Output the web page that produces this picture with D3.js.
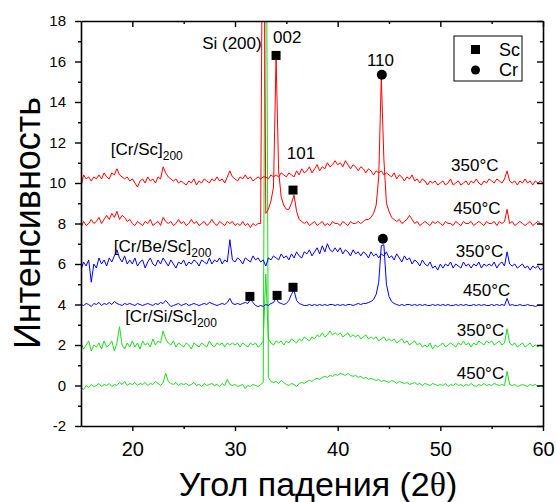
<!DOCTYPE html>
<html>
<head>
<meta charset="utf-8">
<script src="https://cdn.jsdelivr.net/npm/d3@7"></script>
<style>
  body { margin: 0; background: #fff; }
  svg { font-family: "Liberation Sans", Arial, sans-serif; }
</style>
</head>
<body>
<script>
// diffraction scans, step 0.25 deg from 15 to 60 (181 points each)
const angles = d3.range(0, 181).map(i => 15 + i * 0.25);

const crSc350 = [
    9.8, 10.4, 10.2, 10.3, 10.1, 10.3, 10.2, 10.4, 10.2, 10.5, 10.3, 10.2, 10.5, 10.4, 10.7, 10.4, 10.3, 10.2, 10.3, 10.1,
    10.2, 10.0, 9.8, 10.1, 10.2, 10.0, 10.3, 10.1, 10.2, 10.0, 10.3, 10.2, 10.8, 10.5, 10.3, 10.2, 10.1, 10.2, 10.0, 10.1,
    10.0, 9.9, 10.1, 10.0, 10.2, 9.9, 10.1, 10.0, 10.2, 10.1, 10.0, 10.2, 10.1, 10.3, 10.1, 10.2, 10.0, 10.3, 10.6, 10.3,
    10.2, 10.1, 10.3, 10.2, 10.4, 10.2, 10.3, 10.1, 10.2, 10.3, 10.2, 10.3, 10.3, 10.2, 10.4, 10.3, 10.4, 10.3, 10.5, 10.4,
    10.3, 10.5, 10.4, 10.3, 10.6, 10.4, 10.7, 10.5, 10.6, 10.8, 10.5, 10.7, 10.9, 10.6, 10.8, 10.7, 11.0, 10.8, 10.9, 11.1,
    10.9, 11.0, 10.8, 11.1, 10.9, 10.7, 10.9, 10.8, 10.6, 10.8, 10.7, 10.5, 10.7, 10.6, 10.4, 10.6, 10.5, 10.6, 10.4, 10.5,
    10.4, 10.3, 10.5, 10.2, 10.4, 10.3, 10.1, 10.3, 10.2, 10.4, 10.1, 10.2, 10.0, 10.2, 10.1, 9.9, 10.1, 10.0, 10.1, 9.9,
    10.0, 10.1, 9.9, 10.0, 10.2, 9.9, 10.0, 10.1, 9.9, 10.0, 10.1, 9.9, 10.1, 10.0, 10.2, 10.0, 9.9, 10.1, 10.0, 10.2,
    10.1, 10.0, 10.2, 10.1, 10.0, 10.2, 10.6, 10.1, 10.0, 10.1, 9.9, 10.1, 10.0, 10.2, 10.0, 10.1, 9.9, 10.1, 10.0, 10.1,
    10.0
];
const crSc450 = [
    7.8, 8.1, 7.9, 8.0, 8.2, 8.0, 8.1, 8.3, 8.0, 8.2, 8.4, 8.2, 8.5, 8.3, 8.6, 8.2, 8.4, 8.3, 8.1, 8.2,
    8.0, 7.9, 8.1, 8.0, 7.9, 8.1, 8.0, 8.2, 7.9, 8.0, 8.1, 7.9, 8.3, 8.1, 8.0, 8.1, 7.9, 8.0, 8.2, 8.0,
    8.1, 7.9, 8.0, 8.2, 8.0, 8.1, 7.9, 8.0, 8.1, 7.9, 8.0, 8.2, 8.0, 7.9, 8.1, 8.0, 7.9, 8.1, 8.0, 8.1,
    7.9, 8.0, 7.9, 8.1, 7.9, 8.0, 7.8, 8.0, 7.9, 8.0, 8.0, 30, 8.5, 8.7, 9.1, 9.8, 16.2, 10.6, 9.3, 8.9,
    8.7, 8.7, 9.0, 9.4, 8.6, 8.2, 8.1, 8.0, 8.1, 7.9, 8.0, 8.1, 7.9, 8.0, 8.1, 7.9, 8.0, 7.9, 8.1, 8.0,
    8.0, 7.9, 8.1, 8.0, 7.9, 8.1, 8.0, 8.0, 8.1, 8.0, 8.1, 8.2, 8.2, 8.3, 8.5, 8.9, 10.3, 15.2, 11.2, 9.0,
    8.6, 8.3, 8.2, 8.1, 8.2, 8.0, 8.1, 8.2, 8.4, 8.2, 8.0, 8.1, 7.9, 8.0, 8.1, 8.0, 7.9, 8.1, 8.0, 8.1,
    8.0, 7.9, 8.1, 8.0, 8.0, 7.9, 8.1, 8.0, 7.9, 8.1, 8.0, 8.0, 8.1, 7.9, 8.0, 8.1, 8.0, 7.9, 8.1, 8.0,
    8.0, 8.1, 7.9, 8.1, 8.0, 8.1, 8.7, 8.0, 8.1, 7.9, 8.0, 8.1, 8.0, 7.9, 8.0, 8.1, 7.9, 8.0, 8.1, 8.0,
    7.9
];
const crBeSc350 = [
    5.7, 6.1, 5.9, 6.2, 5.1, 6.0, 5.8, 6.3, 6.0, 6.2, 5.9, 6.3, 6.1, 6.4, 6.7, 6.3, 6.1, 6.4, 6.0, 6.2,
    6.0, 6.3, 5.9, 6.1, 6.2, 5.8, 6.1, 6.3, 6.0, 5.9, 6.2, 6.0, 6.3, 6.1, 5.9, 6.2, 6.0, 5.8, 6.1, 6.0,
    6.2, 5.9, 6.1, 6.0, 6.2, 6.1, 5.9, 6.2, 6.1, 6.0, 6.3, 6.0, 6.2, 6.1, 6.3, 6.0, 6.2, 6.1, 7.2, 6.2,
    6.1, 6.3, 6.2, 6.0, 6.3, 6.2, 6.1, 6.4, 6.2, 6.3, 6.1, 6.2, 5.9, 6.3, 6.2, 6.4, 6.3, 6.2, 6.5, 6.3,
    6.4, 6.2, 6.5, 6.3, 6.6, 6.4, 6.3, 6.6, 6.5, 6.7, 6.4, 6.6, 6.8, 6.5, 6.9, 6.6, 7.0, 6.7, 6.6, 6.8,
    6.6, 6.8, 6.5, 6.7, 6.6, 6.4, 6.7, 6.5, 6.6, 6.4, 6.6, 6.5, 6.3, 6.6, 6.4, 6.5, 6.3, 6.5, 6.4, 6.6,
    6.3, 6.4, 6.2, 6.5, 6.3, 6.1, 6.4, 6.2, 6.3, 6.0, 6.2, 6.1, 5.9, 6.2, 6.0, 5.9, 6.1, 5.8, 5.9, 5.7,
    6.0, 5.8, 6.0, 5.9, 6.1, 5.8, 6.0, 5.9, 5.8, 6.1, 5.9, 6.0, 5.8, 6.0, 5.9, 6.1, 5.8, 6.0, 5.9, 6.0,
    5.9, 6.1, 5.8, 6.0, 6.1, 5.9, 6.6, 6.0, 5.9, 6.0, 5.8, 5.9, 6.0, 5.8, 5.9, 5.7, 5.9, 5.8, 5.9, 5.7,
    5.8
];
const crBeSc450 = [
    4.0, 3.95, 4.05, 4.0, 3.9, 4.05, 4.0, 4.1, 3.95, 4.05, 4.0, 4.1, 4.0, 4.15, 4.05, 4.0, 3.95, 4.05, 4.0, 4.05,
    4.0, 3.95, 4.05, 4.0, 3.95, 4.0, 4.05, 4.0, 3.95, 4.05, 4.0, 4.1, 4.05, 4.2, 4.05, 3.9, 3.95, 4.0, 4.05, 3.95,
    4.0, 4.05, 3.95, 4.0, 4.05, 4.0, 3.95, 4.0, 4.05, 4.0, 4.1, 4.05, 4.0, 3.95, 4.0, 4.05, 4.0, 4.1, 4.3, 4.05,
    4.0, 4.05, 4.0, 4.05, 4.1, 4.05, 4.25, 4.1, 3.95, 3.9, 3.95, 3.9, 4.0, 3.95, 4.05, 4.1, 4.3, 4.1, 4.05, 4.0,
    4.05, 4.2, 4.5, 4.7, 4.2, 4.05, 4.0, 3.95, 3.95, 4.0, 3.95, 4.0, 3.95, 4.0, 3.95, 4.0, 3.95, 4.0, 4.0, 3.95,
    4.0, 3.95, 4.0, 3.95, 4.0, 4.0, 3.95, 4.0, 4.05, 4.0, 4.05, 4.05, 4.1, 4.15, 4.25, 4.5, 5.1, 6.9, 6.95, 5.0,
    4.4, 4.15, 4.05, 4.0, 3.95, 4.0, 3.95, 4.0, 4.0, 3.95, 4.0, 3.95, 4.0, 3.95, 4.0, 3.95, 3.95, 4.0, 3.95, 4.0,
    3.95, 4.0, 3.95, 4.0, 3.95, 3.95, 4.0, 3.95, 4.0, 3.95, 4.0, 3.95, 3.95, 4.0, 3.95, 4.0, 3.95, 4.0, 3.95, 3.95,
    4.0, 3.95, 4.0, 3.95, 4.0, 3.95, 4.3, 3.95, 4.0, 3.95, 3.95, 4.0, 3.95, 3.95, 4.0, 3.95, 3.95, 3.9, 3.95, 3.95,
    3.95
];
const crSiSc350 = [
    2.1, 1.8, 2.0, 2.2, 1.7, 2.0, 1.9, 2.1, 1.8, 2.2, 1.9, 2.0, 2.2, 1.7, 2.1, 2.9, 2.0, 1.8, 2.1, 1.9,
    2.2, 1.9, 2.1, 1.8, 2.2, 2.0, 2.1, 1.9, 2.3, 2.0, 2.2, 2.1, 2.7, 2.3, 2.1, 2.0, 2.2, 1.9, 2.1, 2.0,
    1.9, 2.1, 2.0, 1.8, 2.1, 2.0, 1.9, 2.1, 2.0, 1.9, 2.2, 2.0, 1.9, 2.1, 2.0, 2.1, 1.9, 2.1, 2.0, 2.1,
    2.0, 2.1, 1.9, 2.1, 2.0, 1.9, 2.1, 2.0, 2.1, 1.9, 2.0, 2.2, 5.5, 2.3, 2.1, 2.0, 2.2, 2.1, 2.2, 2.0,
    2.2, 2.1, 2.3, 2.2, 2.1, 2.3, 2.2, 2.4, 2.3, 2.2, 2.4, 2.3, 2.5, 2.4, 2.6, 2.4, 2.5, 2.7, 2.5, 2.6,
    2.5, 2.6, 2.4, 2.5, 2.6, 2.4, 2.5, 2.4, 2.5, 2.3, 2.4, 2.5, 2.3, 2.4, 2.3, 2.4, 2.2, 2.3, 2.4, 2.2,
    2.3, 2.2, 2.3, 2.1, 2.2, 2.3, 2.1, 2.2, 2.0, 2.1, 2.2, 2.0, 2.1, 1.9, 2.0, 1.9, 2.1, 1.8, 2.0, 1.9,
    2.0, 2.1, 1.9, 2.0, 2.1, 2.0, 1.9, 2.1, 2.0, 2.2, 2.0, 2.1, 1.9, 2.1, 2.0, 2.2, 2.1, 2.0, 2.2, 2.1,
    2.2, 2.0, 2.1, 2.2, 2.0, 2.1, 2.8, 2.1, 2.0, 2.1, 1.9, 2.0, 2.1, 1.9, 2.0, 2.1, 1.9, 2.0, 1.9, 2.0,
    1.9
];
const crSiSc450 = [
    -0.1, -0.2, 0.0, -0.1, 0.05, -0.05, 0.0, 0.1, -0.05, 0.05, 0.0, 0.1, -0.05, 0.05, 0.0, 0.15, 0.05, 0.2, 0.0, 0.1,
    0.05, 0.15, 0.0, 0.1, 0.05, 0.15, 0.0, 0.1, 0.05, 0.2, 0.1, 0.0, 0.15, 0.6, 0.2, 0.1, 0.05, 0.15, 0.0, 0.1,
    0.05, 0.1, 0.0, 0.05, 0.15, 0.0, 0.05, -0.05, 0.1, 0.0, 0.05, 0.1, 0.0, 0.05, -0.05, 0.1, 0.0, 0.3, 0.05, 0.0,
    0.05, -0.05, 0.0, 0.05, -0.15, 0.0, -0.05, 0.05, 0.0, -0.05, 0.05, 0.15, 30, 0.4, 0.2, 0.15, 0.2, 0.1, 0.25, 0.15,
    0.05, 0.0, 0.1, 0.05, -0.05, 0.1, 0.15, 0.1, 0.2, 0.25, 0.2, 0.3, 0.35, 0.3, 0.4, 0.45, 0.4, 0.5, 0.45, 0.55,
    0.5, 0.6, 0.55, 0.5, 0.6, 0.5, 0.45, 0.5, 0.4, 0.45, 0.35, 0.4, 0.3, 0.35, 0.3, 0.25, 0.3, 0.2, 0.25, 0.2,
    0.15, 0.25, 0.2, 0.1, 0.2, 0.15, 0.1, 0.15, 0.05, 0.1, 0.15, 0.05, 0.1, 0.0, 0.1, 0.05, 0.0, 0.1, 0.05, 0.0,
    0.05, 0.0, 0.1, -0.05, 0.05, 0.0, 0.1, 0.0, 0.05, -0.05, 0.05, 0.0, 0.1, 0.0, -0.05, 0.05, 0.0, 0.1, 0.0, 0.05,
    0.0, 0.1, 0.05, 0.0, 0.05, 0.0, 0.7, 0.05, 0.0, 0.05, -0.05, 0.0, 0.05, 0.0, -0.05, 0.05, 0.0, 0.05, -0.05, 0.0,
    0.0
];

// peak markers [angle, intensity]
const scPeaks = [[34.0, 16.3], [35.65, 9.65], [31.45, 4.4], [34.1, 4.45], [35.65, 4.85]];
const crPeaks = [[44.3, 15.35], [44.4, 7.25]];

const xTicks = [20, 30, 40, 50, 60];
const xMinor = [25, 35, 45, 55];
const yTicks = [-2, 0, 2, 4, 6, 8, 10, 12, 14, 16, 18];
const yMinor = [-1, 1, 3, 5, 7, 9, 11, 13, 15, 17];

const width = 556, height = 502;
const margin = { top: 21, right: 13, bottom: 75, left: 81 };
const colors = { red: '#ff0000', blue: '#0000ff', green: '#1fd81f' };

const series = [
    { values: crSiSc450, color: colors.green },
    { values: crSiSc350, color: colors.green },
    { values: crBeSc450, color: colors.blue },
    { values: crBeSc350, color: colors.blue },
    { values: crSc450, color: colors.red },
    { values: crSc350, color: colors.red }
];
series.forEach(s => {
    if (s.values.length !== angles.length) throw new Error('bad length ' + s.values.length);
});

const x = d3.scaleLinear()
    .domain([15, 60])
    .range([margin.left, width - margin.right]);

const y = d3.scaleLinear()
    .domain([-2, 18])
    .range([height - margin.bottom - 1, margin.top]);

const svg = d3.create('svg')
    .attr('width', width)
    .attr('height', height);

svg.append('clipPath')
    .attr('id', 'plot')
    .append('rect')
    .attr('x', x(15))
    .attr('y', y(18))
    .attr('width', x(60) - x(15))
    .attr('height', y(-2) - y(18));

const line = d3.line()
    .x((d, i) => x(angles[i]))
    .y(d => y(d));

svg.append('g')
    .attr('clip-path', 'url(#plot)')
    .selectAll('path')
    .data(series)
    .join('path')
    .attr('fill', 'none')
    .attr('stroke', d => d.color)
    .attr('stroke-width', 1)
    .attr('d', d => line(d.values));

// markers
svg.append('g')
    .selectAll('rect')
    .data(scPeaks)
    .join('rect')
    .attr('x', d => x(d[0]) - 4.5)
    .attr('y', d => y(d[1]) - 4.5)
    .attr('width', 9)
    .attr('height', 9)
    .attr('fill', 'black');

svg.append('g')
    .selectAll('circle')
    .data(crPeaks)
    .join('circle')
    .attr('cx', d => x(d[0]))
    .attr('cy', d => y(d[1]))
    .attr('r', 5)
    .attr('fill', 'black');

// axes
const styleAxis = g => {
    g.select('.domain').attr('stroke-width', 1.6);
    g.selectAll('.tick line').attr('stroke-width', 1.4);
};

svg.append('g')
    .attr('transform', `translate(0,${y(-2)})`)
    .call(d3.axisBottom(x).tickValues(xTicks).tickSize(5).tickSizeOuter(0).tickPadding(11).tickFormat(d => String(d)))
    .call(styleAxis)
    .call(g => g.selectAll('text').attr('font-size', 20).attr('font-family', null));

svg.append('g')
    .attr('transform', `translate(0,${y(-2)})`)
    .call(d3.axisBottom(x).tickValues(xMinor).tickSize(3).tickSizeOuter(0).tickFormat(''))
    .call(g => g.select('.domain').remove())
    .call(styleAxis);

svg.append('g')
    .attr('transform', `translate(${x(15)},0)`)
    .call(d3.axisLeft(y).tickValues(yTicks).tickSize(6).tickSizeOuter(0).tickPadding(9).tickFormat(d => String(d)))
    .call(styleAxis)
    .call(g => g.selectAll('text').attr('font-size', 15).attr('font-family', null));

svg.append('g')
    .attr('transform', `translate(${x(15)},0)`)
    .call(d3.axisLeft(y).tickValues(yMinor).tickSize(3).tickSizeOuter(0).tickFormat(''))
    .call(g => g.select('.domain').remove())
    .call(styleAxis);

svg.append('g')
    .attr('transform', `translate(0,${y(18)})`)
    .call(d3.axisTop(x).tickValues(xTicks).tickSize(-6).tickSizeOuter(0).tickFormat(''))
    .call(styleAxis);

svg.append('g')
    .attr('transform', `translate(0,${y(18)})`)
    .call(d3.axisTop(x).tickValues(xMinor).tickSize(-3).tickSizeOuter(0).tickFormat(''))
    .call(g => g.select('.domain').remove())
    .call(styleAxis);

svg.append('g')
    .attr('transform', `translate(${x(60)},0)`)
    .call(d3.axisRight(y).tickValues(yTicks).tickSize(-6).tickSizeOuter(0).tickFormat(''))
    .call(styleAxis);

svg.append('g')
    .attr('transform', `translate(${x(60)},0)`)
    .call(d3.axisRight(y).tickValues(yMinor).tickSize(-3).tickSizeOuter(0).tickFormat(''))
    .call(g => g.select('.domain').remove())
    .call(styleAxis);

// axis titles
svg.append('text')
    .attr('x', 318)
    .attr('y', 496)
    .attr('text-anchor', 'middle')
    .attr('font-size', 34)
    .text('Угол падения (2')
    .call(t => t.append('tspan').attr('font-family', '"Liberation Serif", serif').text('θ'))
    .call(t => t.append('tspan').text(')'));

svg.append('text')
    .attr('transform', 'translate(40,223) rotate(-90)')
    .attr('text-anchor', 'middle')
    .attr('font-size', 36)
    .text('Интенсивность');

// annotations
const note = (ax, ay, txt, size = 17) => svg.append('text')
    .attr('x', x(ax))
    .attr('y', y(ay))
    .attr('font-size', size)
    .text(txt);

note(26.8, 16.6, 'Si (200)');
note(33.7, 16.9, '002');
note(42.85, 15.8, '110');
note(35.05, 11.2, '101');

[[51.05, 10.6, '350°C'], [51.25, 8.45, '450°C'], [51.5, 6.35, '350°C'],
 [52.2, 4.4, '450°C'], [51.6, 2.45, '350°C'], [51.6, 0.3, '450°C']]
    .forEach(d => note(d[0], d[1], d[2]));

[[17.9, 11.4, '[Cr/Sc]'], [18.2, 6.6, '[Cr/Be/Sc]'], [19.3, 3.15, '[Cr/Si/Sc]']]
    .forEach(d => note(d[0], d[1], d[2])
        .append('tspan').attr('font-size', 12).attr('dy', 5).text('200'));

// legend
const legend = svg.append('g');
legend.append('rect')
    .attr('x', 454).attr('y', 36).attr('width', 68).attr('height', 45)
    .attr('fill', 'white').attr('stroke', 'black').attr('stroke-width', 1);
legend.append('rect')
    .attr('x', 471).attr('y', 45).attr('width', 9).attr('height', 9).attr('fill', 'black');
legend.append('circle')
    .attr('cx', 475.5).attr('cy', 70).attr('r', 4.5).attr('fill', 'black');
legend.append('text').attr('x', 499).attr('y', 56).attr('font-size', 18).text('Sc');
legend.append('text').attr('x', 499).attr('y', 76).attr('font-size', 18).text('Cr');

document.querySelector('body').appendChild(svg.node());
</script>
</body>
</html>
